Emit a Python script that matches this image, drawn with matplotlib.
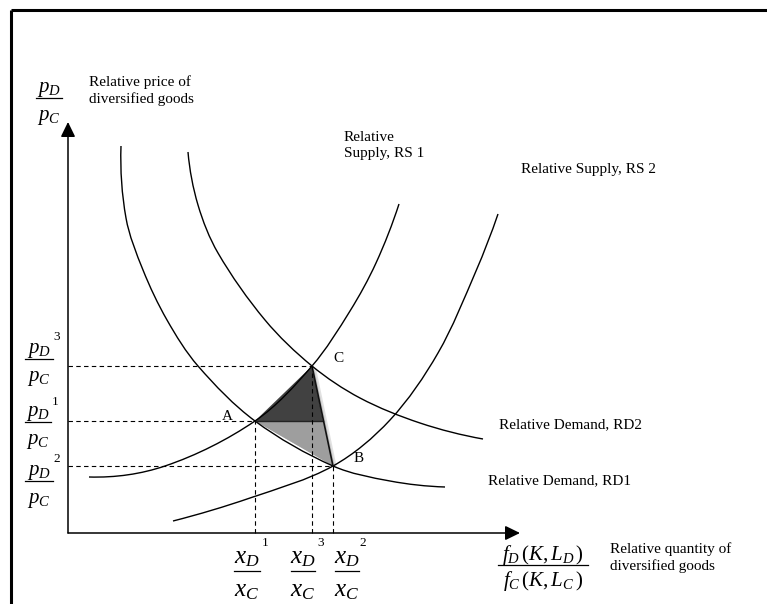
import numpy as np
import matplotlib as mpl
mpl.use('Agg')
import matplotlib.pyplot as plt
from matplotlib.path import Path
from matplotlib.patches import PathPatch, Polygon

plt.rcParams['font.family'] = 'Liberation Serif'
plt.rcParams['mathtext.fontset'] = 'custom'
plt.rcParams['mathtext.rm'] = 'Liberation Serif'
plt.rcParams['mathtext.it'] = 'Liberation Serif:italic'

# curves (origin = axes corner, 1 unit ~ 1 px)
rd1_x = [53, 58, 75, 99, 130, 187, 265, 322, 377]
rd1_y = [387, 315, 263, 213, 167, 112, 67, 52, 46]
rd2_x = [120, 130, 150, 197, 244, 292, 352, 415]
rd2_y = [381, 328, 280, 213, 167, 135, 110, 94]
rs1_x = [21, 97, 187, 244, 282, 308, 331]
rs1_y = [56, 67, 112, 167, 222, 270, 329]
rs2_x = [105, 182, 265, 322, 370, 408, 430]
rs2_y = [12, 35, 67, 113, 180, 262, 319]

# equilibrium points
pt_names = ['A', 'B', 'C']
pt_x = [187, 265, 244]
pt_y = [112, 67, 167]
split_x = 255   # where line C-B crosses price level of A


def smooth_path(xs, ys):
    # smooth curve through the read points, drawn as cubic bezier segments
    pts = np.column_stack([xs, ys]).astype(float)
    n = len(pts)
    seg = np.linalg.norm(np.diff(pts, axis=0), axis=1)
    tang = np.zeros_like(pts)
    for i in range(1, n - 1):
        tang[i] = (pts[i + 1] - pts[i - 1]) / (seg[i - 1] + seg[i])
    # end tangents mirrored about the end chord
    tang[0] = 2 * (pts[1] - pts[0]) / seg[0] - tang[1]
    tang[-1] = 2 * (pts[-1] - pts[-2]) / seg[-1] - tang[-2]
    verts = [pts[0]]
    codes = [Path.MOVETO]
    for i in range(n - 1):
        verts += [pts[i] + tang[i] * seg[i] / 3, pts[i + 1] - tang[i + 1] * seg[i] / 3, pts[i + 1]]
        codes += [Path.CURVE4] * 3
    return Path(verts, codes)


def frac(ax, cx, ybar, num, den, hw, fs, dnum, dden, sup=None, sup_xy=None):
    ax.text(cx, ybar + dnum, num, fontsize=fs, ha='center', va='baseline')
    ax.plot([cx - hw, cx + hw], [ybar, ybar], color='black', lw=0.9)
    ax.text(cx, ybar - dden, den, fontsize=fs, ha='center', va='baseline')
    if sup is not None:
        ax.text(sup_xy[0], sup_xy[1], sup, fontsize=9.5, ha='center', va='center')


fig = plt.figure(figsize=(7.67, 6.04), dpi=100)
ax = fig.add_axes([0, 0, 1, 1])
ax.set_xlim(-68, 699)
ax.set_ylim(-71, 533)
ax.axis('off')

# frame
ax.plot([-57, 699], [523, 523], color='black', lw=2.2, solid_capstyle='butt')
ax.plot([-57, -57], [523, -71], color='black', lw=2.2, solid_capstyle='butt')

# axes with arrows
arrow = dict(arrowstyle='-|>,head_length=0.45,head_width=0.22', color='black',
             lw=1.1, shrinkA=0, shrinkB=0, mutation_scale=20)
ax.annotate('', xy=(0, 411), xytext=(0, 0), arrowprops=arrow)
ax.annotate('', xy=(452, 0), xytext=(0, 0), arrowprops=arrow)

# shaded triangles
A = (pt_x[0], pt_y[0])
B = (pt_x[1], pt_y[1])
C = (pt_x[2], pt_y[2])
D = (split_x, pt_y[0])
for dx, dy, a in [(4, -2, 0.25), (2, -1, 0.35)]:
    ax.add_patch(Polygon([(A[0] + dx, A[1] + dy), (C[0] + dx, C[1] + dy), (B[0] + dx, B[1] + dy)],
                         closed=True, facecolor='#888888', edgecolor='none', alpha=a))
ax.add_patch(Polygon([A, C, D], closed=True, facecolor='#414141', edgecolor='none'))
ax.add_patch(Polygon([A, D, B], closed=True, facecolor='#9e9e9e', edgecolor='none'))
ax.plot([A[0], D[0]], [A[1], D[1]], color='#222222', lw=1.0)
ax.plot([C[0], B[0]], [C[1], B[1]], color='#111111', lw=1.2)

# dashed guides
dash = dict(color='black', lw=0.8, linestyle=(0, (4, 3)))
for px, py in zip(pt_x, pt_y):
    ax.plot([0, px], [py, py], **dash)
    ax.plot([px, px], [0, py], **dash)

# curves
for xs, ys in [(rd1_x, rd1_y), (rd2_x, rd2_y), (rs1_x, rs1_y), (rs2_x, rs2_y)]:
    ax.add_patch(PathPatch(smooth_path(xs, ys), facecolor='none', edgecolor='black', lw=1.0))

# point labels
lab_off = {'A': (-28, 5), 'B': (26, 7), 'C': (26, 7)}
for name, px, py in zip(pt_names, pt_x, pt_y):
    ax.text(px + lab_off[name][0], py + lab_off[name][1], name, fontsize=11,
            ha='center', va='center')

# curve labels
ax.text(276, 402, 'Relative\nSupply, RS 1', fontsize=11, ha='left', va='top', linespacing=1.32)
ax.text(453, 363, 'Relative Supply, RS 2', fontsize=11, ha='left', va='center')
ax.text(431, 108, 'Relative Demand, RD2', fontsize=11, ha='left', va='center')
ax.text(420, 52, 'Relative Demand, RD1', fontsize=11, ha='left', va='center')

# axis titles
ax.text(21, 458, 'Relative price of\ndiversified goods', fontsize=11, ha='left', va='top',
        linespacing=1.32)
ax.text(542, -9, 'Relative quantity of\ndiversified goods', fontsize=11, ha='left', va='top',
        linespacing=1.28)
frac(ax, -19, 435, r'$p_D$', r'$p_C$', 13, 15, 6, 22)
frac(ax, 475, -32, r'$f_D\,(K, L_D\,)$', r'$f_C\,(K, L_C\,)$', 45, 15, 5, 21)

# price levels on y axis
frac(ax, -29, 174, r'$p_D$', r'$p_C$', 14, 15, 6, 22, '3', (-11, 196))
frac(ax, -30, 111, r'$p_D$', r'$p_C$', 13, 15, 6, 22, '1', (-13, 131))
frac(ax, -29, 52, r'$p_D$', r'$p_C$', 14, 15, 6, 22, '2', (-11, 74))

# quantity levels on x axis
frac(ax, 179, -38, r'$x_D$', r'$x_C$', 13, 18, 8, 25, '1', (197, -10))
frac(ax, 235, -38, r'$x_D$', r'$x_C$', 12, 18, 8, 25, '3', (253, -10))
frac(ax, 279, -38, r'$x_D$', r'$x_C$', 12, 18, 8, 25, '2', (295, -10))

fig.savefig('out.png', dpi=100)
plt.close(fig)
